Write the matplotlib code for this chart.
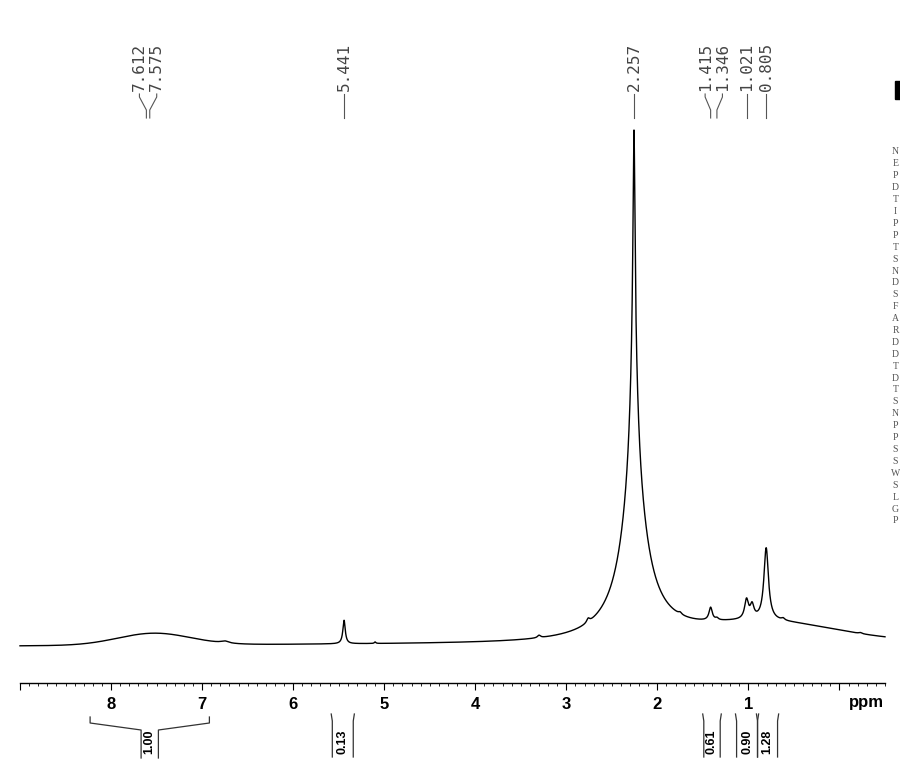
import numpy as np
import matplotlib
matplotlib.use("Agg")
import matplotlib.pyplot as plt
from matplotlib.ticker import MultipleLocator, FixedLocator
from matplotlib.transforms import blended_transform_factory
from matplotlib.patches import Rectangle

# peaks: position (ppm), height (a.u.), half width (ppm)
lor_ppm = [2.257, 2.257, 2.257, 2.257, 5.441, 1.415, 1.346, 1.021, 0.96, 0.805,
           2.76, 3.30, 1.75, 0.62, 6.75, 5.10, -0.23]
lor_height = [215, 150, 130, 15, 23.5, 13, 2, 19, 13, 72,
              4, 2.5, 2, 2, 2, 1.5, 1]
lor_width = [0.0132, 0.0495, 0.165, 0.44, 0.016, 0.022, 0.02, 0.025, 0.025, 0.03,
             0.02, 0.02, 0.02, 0.02, 0.05, 0.01, 0.02]

# broad humps: centre (ppm), height, sigma (ppm)
hump_ppm = [7.62, 7.38, 0.8]
hump_height = [7.5, 5, 19]
hump_sigma = [0.38, 0.38, 0.75]

baseline_left, baseline_right = 37, 41

peak_labels = [7.612, 7.575, 5.441, 2.257, 1.415, 1.346, 1.021, 0.805]

integ_from = [8.23, 5.57, 1.49, 1.13, 0.90]
integ_to = [6.92, 5.34, 1.31, 0.90, 0.68]
integ_val = ["1.00", "0.13", "0.61", "0.90", "1.28"]

# parameter table at the right edge, only the first letter is visible
param_letters = list("NEPDTIPPTSNDSFARDDTDTSNPPSSWSLGP")

x = np.linspace(9.0, -0.5, 8000)
y = baseline_left + (baseline_right - baseline_left) * (9.0 - x) / 9.5
for p, h, g in zip(lor_ppm, lor_height, lor_width):
    y = y + h / (1 + ((x - p) / g) ** 2)
for p, h, s in zip(hump_ppm, hump_height, hump_sigma):
    y = y + h * np.exp(-(x - p) ** 2 / (2 * s ** 2))

W, H = 900, 770
fig = plt.figure(figsize=(W / 100, H / 100), dpi=100)
ax = fig.add_axes([20 / W, (H - 683) / H, 865 / W, (683 - 130) / H])
ax.plot(x, y, color="black", lw=1.0, clip_on=False)
ax.set_xlim(9.0, -0.5)
ax.set_ylim(0, y.max())

for s in ["top", "left", "right"]:
    ax.spines[s].set_visible(False)
ax.spines["bottom"].set_linewidth(1.0)
ax.set_yticks([])
ax.xaxis.set_major_locator(FixedLocator(range(0, 10)))
ax.xaxis.set_minor_locator(MultipleLocator(0.1))
ax.set_xticklabels(["" if t in (0, 9) else str(t) for t in range(0, 10)],
                   fontfamily="Liberation Sans", fontweight="bold", fontsize=12)
ax.tick_params(axis="x", which="major", direction="out", length=5, width=0.8, pad=5)
ax.tick_params(axis="x", which="minor", direction="out", length=2, width=0.6)

# overlay in pixel coordinates for the annotations
ov = fig.add_axes([0, 0, 1, 1], zorder=5)
ov.set_xlim(0, W)
ov.set_ylim(H, 0)
ov.axis("off")
tr = blended_transform_factory(ax.transData, ov.transData)

ov.text(866, 703, "ppm", ha="center", va="center", fontfamily="Liberation Sans",
        fontweight="bold", fontsize=12)

# peak picking labels, spread apart where they crowd
gap = 0.19
pos = sorted(peak_labels, reverse=True)
groups = [[pos[0]]]
for p in pos[1:]:
    if groups[-1][-1] - p < gap:
        groups[-1].append(p)
    else:
        groups.append([p])
for grp in groups:
    c = np.mean(grp)
    n = len(grp)
    for i, p in enumerate(grp):
        lx = c + gap * ((n - 1) / 2 - i)
        ov.plot([lx, lx, p, p], [94, 97, 110, 118], transform=tr, color="#555555",
                lw=0.8, clip_on=False)
        ov.text(lx, 91, f"{p:.3f}", transform=tr, rotation=90, ha="center", va="bottom",
                fontfamily="DejaVu Sans Mono", fontsize=11.5, color="#444444")

# integral brackets below the axis
bw = 0.095
for a, b, v in zip(integ_from, integ_to, integ_val):
    c = (a + b) / 2
    if (a - b) / 2 > bw + 0.05:
        ov.plot([a, a, c + bw, c + bw], [717, 723, 730, 758], transform=tr,
                color="#333333", lw=0.9)
        ov.plot([b, b, c - bw, c - bw], [717, 723, 730, 758], transform=tr,
                color="#333333", lw=0.9)
    else:
        ov.plot([a + 0.012, a, a], [714, 721, 757], transform=tr, color="#333333", lw=0.9)
        ov.plot([b - 0.012, b, b], [714, 721, 757], transform=tr, color="#333333", lw=0.9)
    ov.text(c, 742, v, transform=tr, rotation=90, ha="center", va="center",
            fontfamily="Liberation Sans", fontweight="bold", fontsize=9)

for i, letter in enumerate(param_letters):
    ov.text(895.5, 152 + i * 11.9, letter, ha="center", va="center",
            fontfamily="Liberation Serif", fontsize=7, color="#555555")
ov.add_patch(Rectangle((895, 81), 10, 18, color="black", clip_on=False))

fig.savefig("out.png", dpi=100)
